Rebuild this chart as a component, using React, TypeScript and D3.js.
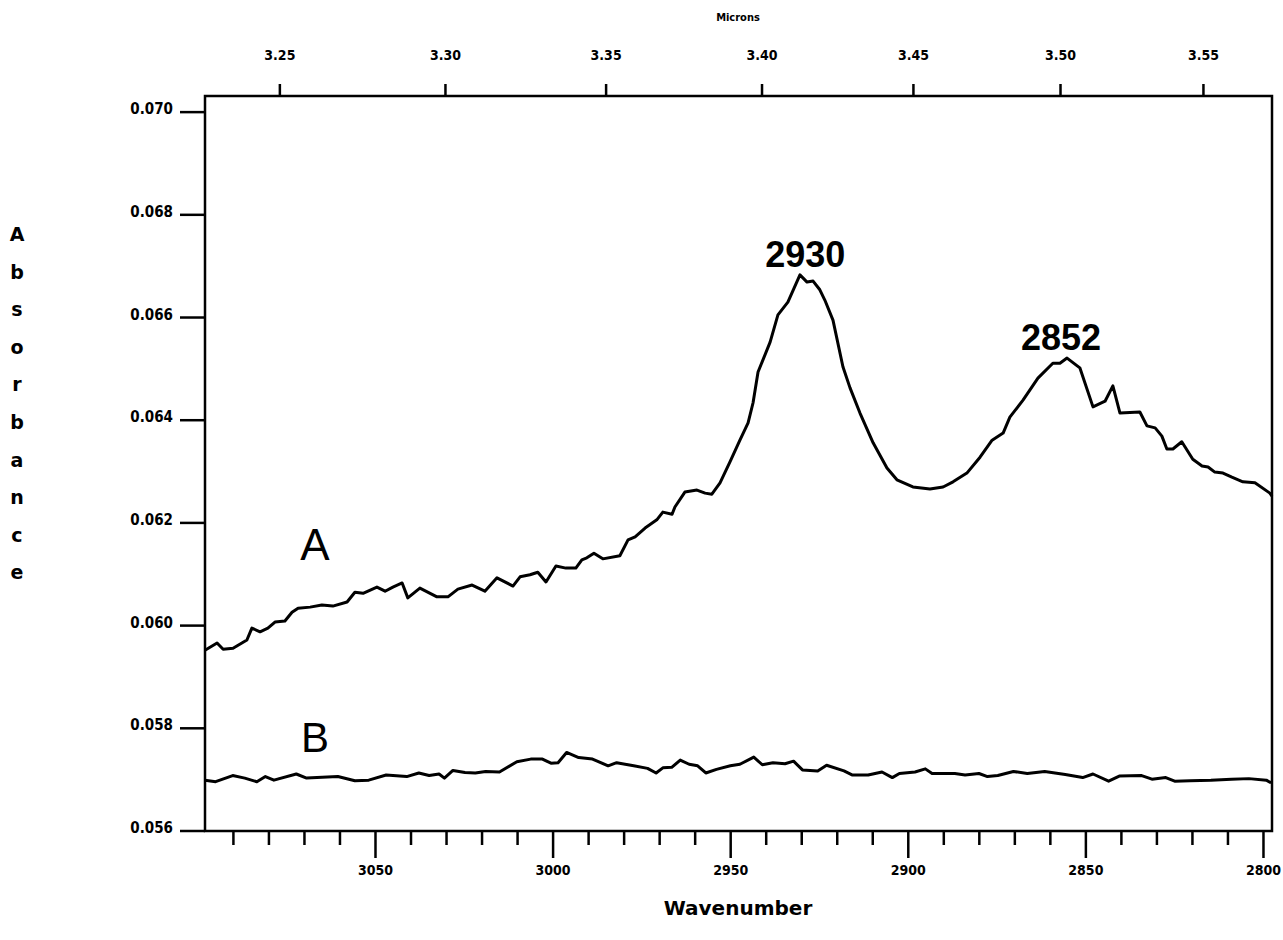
import * as d3 from "d3";

// spectrum A (wavenumber, absorbance)
const wnA = [
  3098.0, 3094.6, 3092.9, 3090.1, 3086.2, 3084.8, 3082.5, 3080.3, 3078.3, 3075.5,
  3073.5, 3071.8, 3068.4, 3065.1, 3062.0, 3058.0, 3055.8, 3053.5, 3049.6, 3047.3,
  3045.1, 3042.5, 3040.9, 3037.5, 3032.7, 3029.6, 3026.8, 3022.8, 3019.2, 3015.8,
  3011.3, 3009.3, 3006.5, 3004.3, 3002.0, 2999.2, 2996.4, 2993.6, 2991.9, 2990.5,
  2988.5, 2986.0, 2981.2, 2978.9, 2976.9, 2974.1, 2970.8, 2969.1, 2966.5, 2965.7,
  2962.9, 2959.5, 2957.2, 2955.3, 2953.0, 2950.2, 2947.4, 2945.1, 2943.7, 2942.3,
  2938.9, 2936.7, 2933.9, 2930.5, 2928.5, 2926.8, 2924.9, 2923.5, 2921.2, 2918.4,
  2916.4, 2913.6, 2909.9, 2906.0, 2903.2, 2898.7, 2893.9, 2890.2, 2887.4, 2883.5,
  2879.8, 2876.4, 2873.3, 2871.4, 2867.7, 2863.5, 2859.3, 2857.3, 2855.3, 2851.7,
  2848.0, 2844.6, 2842.4, 2840.4, 2834.8, 2832.8, 2830.5, 2828.6, 2827.2, 2825.5,
  2823.0, 2819.9, 2817.3, 2815.6, 2813.7, 2811.4, 2808.9, 2805.8, 2802.4, 2798.2,
  2797.6,
];
const absA = [
  0.05952, 0.05966, 0.05954, 0.05956, 0.05972, 0.05995, 0.05988, 0.05995, 0.06007, 0.06009,
  0.06026, 0.06034, 0.06036, 0.0604, 0.06038, 0.06046, 0.06065, 0.06063, 0.06075, 0.06067,
  0.06075, 0.06083, 0.06054, 0.06073, 0.06056, 0.06056, 0.06071, 0.06079, 0.06067, 0.06093,
  0.06077, 0.06095, 0.06099, 0.06104, 0.06085, 0.06116, 0.06112, 0.06112, 0.06128, 0.06132,
  0.06141, 0.0613, 0.06136, 0.06167, 0.06173, 0.0619, 0.06206, 0.06221, 0.06217, 0.06231,
  0.0626, 0.06264, 0.06258, 0.06256, 0.06278, 0.06319, 0.06361, 0.06395, 0.06434, 0.06494,
  0.06552, 0.06605, 0.0663, 0.06683, 0.06669, 0.06671, 0.06654, 0.06634, 0.06595, 0.06504,
  0.06463, 0.06414, 0.06356, 0.06307, 0.06284, 0.0627, 0.06266, 0.0627, 0.0628, 0.06297,
  0.06328, 0.06361, 0.06375, 0.06406, 0.06439, 0.06482, 0.06511, 0.06511, 0.06521, 0.06502,
  0.06426, 0.06437, 0.06467, 0.06414, 0.06416, 0.06389, 0.06385, 0.06369, 0.06344, 0.06344,
  0.06358, 0.06324, 0.06311, 0.06309, 0.06299, 0.06297, 0.06289, 0.0628, 0.06278, 0.06258,
  0.06252,
];

// spectrum B
const wnB = [
  3098.0, 3095.0, 3090.2, 3086.8, 3083.4, 3081.0, 3078.6, 3072.3, 3069.4, 3060.6,
  3055.8, 3051.9, 3047.0, 3041.2, 3037.8, 3034.9, 3032.1, 3030.6, 3028.2, 3024.8,
  3021.9, 3019.0, 3015.1, 3010.2, 3006.3, 3003.0, 3000.6, 2998.6, 2996.2, 2992.8,
  2988.9, 2984.5, 2982.1, 2977.3, 2973.4, 2971.0, 2969.1, 2966.6, 2964.2, 2961.7,
  2959.3, 2957.0, 2954.0, 2950.1, 2947.4, 2943.5, 2941.1, 2938.1, 2934.7, 2932.3,
  2929.8, 2925.5, 2923.0, 2918.1, 2915.7, 2911.3, 2907.4, 2904.5, 2902.5, 2898.1,
  2895.2, 2893.3, 2886.9, 2884.0, 2880.1, 2877.7, 2874.8, 2870.4, 2866.5, 2861.6,
  2855.8, 2850.9, 2848.0, 2843.6, 2840.6, 2834.3, 2831.4, 2827.5, 2825.0, 2820.7,
  2814.8, 2809.0, 2804.1, 2799.2, 2798.2, 2797.6,
];
const absB = [
  0.05699, 0.05696, 0.05708, 0.05703, 0.05696, 0.05706, 0.05699, 0.05711, 0.05703, 0.05706,
  0.05698, 0.05699, 0.05709, 0.05706, 0.05713, 0.05708, 0.05711, 0.05703, 0.05718, 0.05714,
  0.05713, 0.05716, 0.05715, 0.05735, 0.0574, 0.0574, 0.05732, 0.05733, 0.05753, 0.05743,
  0.0574, 0.05727, 0.05733, 0.05727, 0.05722, 0.05713, 0.05723, 0.05724, 0.05738, 0.0573,
  0.05727, 0.05713, 0.0572, 0.05727, 0.0573, 0.05744, 0.05729, 0.05733, 0.05731, 0.05736,
  0.05719, 0.05717, 0.05728, 0.05717, 0.05709, 0.05709, 0.05715, 0.05704, 0.05712, 0.05715,
  0.05721, 0.05712, 0.05712, 0.05709, 0.05712, 0.05706, 0.05708, 0.05716, 0.05712, 0.05716,
  0.0571, 0.05704, 0.05711, 0.05697, 0.05707, 0.05708, 0.05701, 0.05704, 0.05697, 0.05698,
  0.05699, 0.05701, 0.05702, 0.05699, 0.05695, 0.05695,
];

const absTicks = [0.056, 0.058, 0.06, 0.062, 0.064, 0.066, 0.068, 0.07];
const micronTicks = [3.25, 3.3, 3.35, 3.4, 3.45, 3.5, 3.55];
const wnMajor = [3050, 3000, 2950, 2900, 2850, 2800];
const wnMinor = [
  3090, 3080, 3070, 3060, 3040, 3030, 3020, 3010, 2990, 2980, 2970, 2960,
  2940, 2930, 2920, 2910, 2890, 2880, 2870, 2860, 2840, 2830, 2820, 2810,
];
const peaks = [
  { label: "2930", wn: 2929, abs: 0.06683 },
  { label: "2852", wn: 2857, abs: 0.06521 },
];
const yTitle = "Absorbance";

const W = 1283;
const H = 940;
const left = 205;
const right = 1272;
const top = 96;
const bottom = 831;

const tickFont = {
  fontFamily: "'DejaVu Sans Condensed', 'DejaVu Sans', sans-serif",
  fontStretch: "condensed",
  fontWeight: "bold",
  fontSize: 14,
} as const;

export default function App() {
  const x = d3.scaleLinear().domain([3098, 2797.6]).range([left, right]);
  const y = d3.scaleLinear().domain([0.056, 0.070314]).range([bottom, top]);

  const line = d3
    .line<[number, number]>()
    .x((d) => x(d[0]))
    .y((d) => y(d[1]));

  const seriesA = wnA.map((w, i) => [w, absA[i]] as [number, number]);
  const seriesB = wnB.map((w, i) => [w, absB[i]] as [number, number]);
  const fmtAbs = d3.format(".3f");
  const fmtMic = d3.format(".2f");

  return (
    <svg
      width={W}
      height={H}
      style={{ position: "absolute", left: 0, top: 0, background: "#fff" }}
    >
      {/* frame */}
      <rect
        x={left}
        y={top}
        width={right - left}
        height={bottom - top}
        fill="none"
        stroke="#000"
        strokeWidth={2.5}
      />

      {/* left axis */}
      {absTicks.map((t) => (
        <g key={t}>
          <line x1={180} x2={left} y1={y(t)} y2={y(t)} stroke="#000" strokeWidth={2.5} />
          <text x={173} y={y(t) - 3} textAnchor="end" dominantBaseline="central" {...tickFont} fontSize={15}>
            {fmtAbs(t)}
          </text>
        </g>
      ))}

      {/* top micron axis */}
      {micronTicks.map((m) => (
        <g key={m}>
          <line x1={x(10000 / m)} x2={x(10000 / m)} y1={top} y2={top - 12} stroke="#000" strokeWidth={2.5} />
          <text x={x(10000 / m)} y={55} textAnchor="middle" dominantBaseline="central" {...tickFont}>
            {fmtMic(m)}
          </text>
        </g>
      ))}
      <text x={738} y={17} textAnchor="middle" dominantBaseline="central" {...tickFont} fontSize={11}>
        Microns
      </text>

      {/* bottom wavenumber axis */}
      {wnMinor.map((w) => (
        <line key={w} x1={x(w)} x2={x(w)} y1={bottom} y2={bottom + 14} stroke="#000" strokeWidth={2.5} />
      ))}
      {wnMajor.map((w) => (
        <g key={w}>
          <line x1={x(w)} x2={x(w)} y1={bottom} y2={bottom + 27} stroke="#000" strokeWidth={2.5} />
          <text x={x(w)} y={870} textAnchor="middle" dominantBaseline="central" {...tickFont}>
            {w}
          </text>
        </g>
      ))}
      <text
        x={738}
        y={908}
        textAnchor="middle"
        dominantBaseline="central"
        fontFamily="'DejaVu Sans', sans-serif"
        fontWeight="bold"
        fontSize={20}
      >
        Wavenumber
      </text>

      {/* y title, stacked letters */}
      {yTitle.split("").map((c, i) => (
        <text
          key={i}
          x={17}
          y={234 + i * 37.6}
          textAnchor="middle"
          dominantBaseline="central"
          fontFamily="'DejaVu Sans', sans-serif"
          fontWeight="bold"
          fontSize={19}
        >
          {c}
        </text>
      ))}

      {/* spectra */}
      <path d={line(seriesA) ?? ""} fill="none" stroke="#000" strokeWidth={3} strokeLinejoin="round" />
      <path d={line(seriesB) ?? ""} fill="none" stroke="#000" strokeWidth={3} strokeLinejoin="round" />

      {/* labels */}
      <text x={315} y={560} textAnchor="middle" fontFamily="'Liberation Sans', Arial, sans-serif" fontSize={44}>
        A
      </text>
      <text x={315} y={752} textAnchor="middle" fontFamily="'Liberation Sans', Arial, sans-serif" fontSize={42}>
        B
      </text>
      {peaks.map((p) => (
        <text
          key={p.label}
          x={x(p.wn)}
          y={y(p.abs) - 8}
          textAnchor="middle"
          fontFamily="'Liberation Sans', Arial, sans-serif"
          fontWeight="bold"
          fontSize={36}
        >
          {p.label}
        </text>
      ))}
    </svg>
  );
}
